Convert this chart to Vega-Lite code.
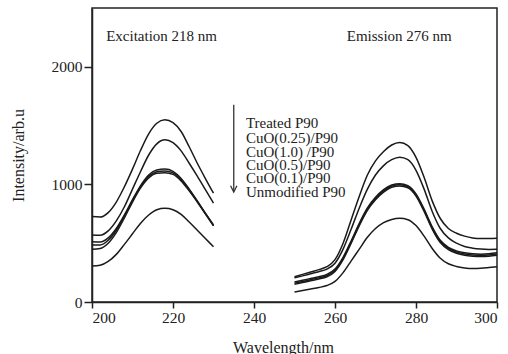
{
  "$schema": "https://vega.github.io/schema/vega-lite/v6.json",
  "width": 405,
  "height": 294,
  "autosize": {"type": "none"},
  "padding": {"left": 92, "top": 8, "right": 11, "bottom": 52},
  "background": "white",
  "config": {
    "view": {"stroke": "#222", "strokeWidth": 1.5},
    "font": "Liberation Serif",
    "axis": {
      "grid": false,
      "domainColor": "#222",
      "domainWidth": 1.5,
      "tickColor": "#222",
      "tickWidth": 1.5,
      "labelFont": "Liberation Serif",
      "labelFontSize": 15.5,
      "labelColor": "#222",
      "titleFont": "Liberation Serif",
      "titleFontSize": 16,
      "titleFontWeight": "normal",
      "titleColor": "#222"
    }
  },
  "datasets": {
    "curves": [
      {"s":"Treated P90","b":"ex","x":200,"y":726},{"s":"Treated P90","b":"ex","x":202,"y":722},{"s":"Treated P90","b":"ex","x":204,"y":760},{"s":"Treated P90","b":"ex","x":206,"y":850},{"s":"Treated P90","b":"ex","x":208,"y":980},{"s":"Treated P90","b":"ex","x":210,"y":1130},{"s":"Treated P90","b":"ex","x":212,"y":1290},{"s":"Treated P90","b":"ex","x":214,"y":1430},{"s":"Treated P90","b":"ex","x":216,"y":1520},{"s":"Treated P90","b":"ex","x":218,"y":1549},{"s":"Treated P90","b":"ex","x":220,"y":1525},{"s":"Treated P90","b":"ex","x":222,"y":1450},{"s":"Treated P90","b":"ex","x":224,"y":1320},{"s":"Treated P90","b":"ex","x":226,"y":1180},{"s":"Treated P90","b":"ex","x":228,"y":1050},{"s":"Treated P90","b":"ex","x":230,"y":925},
      {"s":"CuO(0.25)","b":"ex","x":200,"y":570},{"s":"CuO(0.25)","b":"ex","x":202,"y":568},{"s":"CuO(0.25)","b":"ex","x":204,"y":605},{"s":"CuO(0.25)","b":"ex","x":206,"y":690},{"s":"CuO(0.25)","b":"ex","x":208,"y":810},{"s":"CuO(0.25)","b":"ex","x":210,"y":960},{"s":"CuO(0.25)","b":"ex","x":212,"y":1110},{"s":"CuO(0.25)","b":"ex","x":214,"y":1250},{"s":"CuO(0.25)","b":"ex","x":216,"y":1345},{"s":"CuO(0.25)","b":"ex","x":218,"y":1379},{"s":"CuO(0.25)","b":"ex","x":220,"y":1355},{"s":"CuO(0.25)","b":"ex","x":222,"y":1285},{"s":"CuO(0.25)","b":"ex","x":224,"y":1180},{"s":"CuO(0.25)","b":"ex","x":226,"y":1070},{"s":"CuO(0.25)","b":"ex","x":228,"y":955},{"s":"CuO(0.25)","b":"ex","x":230,"y":840},
      {"s":"CuO(1.0)","b":"ex","x":200,"y":513},{"s":"CuO(1.0)","b":"ex","x":202,"y":510},{"s":"CuO(1.0)","b":"ex","x":204,"y":545},{"s":"CuO(1.0)","b":"ex","x":206,"y":625},{"s":"CuO(1.0)","b":"ex","x":208,"y":740},{"s":"CuO(1.0)","b":"ex","x":210,"y":870},{"s":"CuO(1.0)","b":"ex","x":212,"y":990},{"s":"CuO(1.0)","b":"ex","x":214,"y":1080},{"s":"CuO(1.0)","b":"ex","x":216,"y":1122},{"s":"CuO(1.0)","b":"ex","x":218,"y":1130},{"s":"CuO(1.0)","b":"ex","x":220,"y":1110},{"s":"CuO(1.0)","b":"ex","x":222,"y":1050},{"s":"CuO(1.0)","b":"ex","x":224,"y":960},{"s":"CuO(1.0)","b":"ex","x":226,"y":860},{"s":"CuO(1.0)","b":"ex","x":228,"y":755},{"s":"CuO(1.0)","b":"ex","x":230,"y":655},
      {"s":"CuO(0.5)","b":"ex","x":200,"y":485},{"s":"CuO(0.5)","b":"ex","x":202,"y":485},{"s":"CuO(0.5)","b":"ex","x":204,"y":525},{"s":"CuO(0.5)","b":"ex","x":206,"y":610},{"s":"CuO(0.5)","b":"ex","x":208,"y":730},{"s":"CuO(0.5)","b":"ex","x":210,"y":860},{"s":"CuO(0.5)","b":"ex","x":212,"y":980},{"s":"CuO(0.5)","b":"ex","x":214,"y":1068},{"s":"CuO(0.5)","b":"ex","x":216,"y":1108},{"s":"CuO(0.5)","b":"ex","x":218,"y":1115},{"s":"CuO(0.5)","b":"ex","x":220,"y":1098},{"s":"CuO(0.5)","b":"ex","x":222,"y":1040},{"s":"CuO(0.5)","b":"ex","x":224,"y":955},{"s":"CuO(0.5)","b":"ex","x":226,"y":855},{"s":"CuO(0.5)","b":"ex","x":228,"y":752},{"s":"CuO(0.5)","b":"ex","x":230,"y":650},
      {"s":"CuO(0.1)","b":"ex","x":200,"y":449},{"s":"CuO(0.1)","b":"ex","x":202,"y":455},{"s":"CuO(0.1)","b":"ex","x":204,"y":500},{"s":"CuO(0.1)","b":"ex","x":206,"y":590},{"s":"CuO(0.1)","b":"ex","x":208,"y":715},{"s":"CuO(0.1)","b":"ex","x":210,"y":850},{"s":"CuO(0.1)","b":"ex","x":212,"y":970},{"s":"CuO(0.1)","b":"ex","x":214,"y":1055},{"s":"CuO(0.1)","b":"ex","x":216,"y":1095},{"s":"CuO(0.1)","b":"ex","x":218,"y":1100},{"s":"CuO(0.1)","b":"ex","x":220,"y":1085},{"s":"CuO(0.1)","b":"ex","x":222,"y":1030},{"s":"CuO(0.1)","b":"ex","x":224,"y":945},{"s":"CuO(0.1)","b":"ex","x":226,"y":850},{"s":"CuO(0.1)","b":"ex","x":228,"y":750},{"s":"CuO(0.1)","b":"ex","x":230,"y":648},
      {"s":"Unmodified P90","b":"ex","x":200,"y":306},{"s":"Unmodified P90","b":"ex","x":202,"y":312},{"s":"Unmodified P90","b":"ex","x":204,"y":345},{"s":"Unmodified P90","b":"ex","x":206,"y":405},{"s":"Unmodified P90","b":"ex","x":208,"y":490},{"s":"Unmodified P90","b":"ex","x":210,"y":580},{"s":"Unmodified P90","b":"ex","x":212,"y":670},{"s":"Unmodified P90","b":"ex","x":214,"y":740},{"s":"Unmodified P90","b":"ex","x":216,"y":785},{"s":"Unmodified P90","b":"ex","x":218,"y":797},{"s":"Unmodified P90","b":"ex","x":220,"y":785},{"s":"Unmodified P90","b":"ex","x":222,"y":745},{"s":"Unmodified P90","b":"ex","x":224,"y":680},{"s":"Unmodified P90","b":"ex","x":226,"y":610},{"s":"Unmodified P90","b":"ex","x":228,"y":540},{"s":"Unmodified P90","b":"ex","x":230,"y":470},

      {"s":"Treated P90","b":"em","x":250,"y":215},{"s":"Treated P90","b":"em","x":252,"y":235},{"s":"Treated P90","b":"em","x":254,"y":255},{"s":"Treated P90","b":"em","x":256,"y":275},{"s":"Treated P90","b":"em","x":258,"y":300},{"s":"Treated P90","b":"em","x":260,"y":360},{"s":"Treated P90","b":"em","x":262,"y":500},{"s":"Treated P90","b":"em","x":264,"y":700},{"s":"Treated P90","b":"em","x":266,"y":900},{"s":"Treated P90","b":"em","x":268,"y":1080},{"s":"Treated P90","b":"em","x":270,"y":1200},{"s":"Treated P90","b":"em","x":272,"y":1280},{"s":"Treated P90","b":"em","x":274,"y":1335},{"s":"Treated P90","b":"em","x":276,"y":1356},{"s":"Treated P90","b":"em","x":278,"y":1330},{"s":"Treated P90","b":"em","x":280,"y":1230},{"s":"Treated P90","b":"em","x":282,"y":1060},{"s":"Treated P90","b":"em","x":284,"y":860},{"s":"Treated P90","b":"em","x":286,"y":710},{"s":"Treated P90","b":"em","x":288,"y":625},{"s":"Treated P90","b":"em","x":290,"y":585},{"s":"Treated P90","b":"em","x":292,"y":560},{"s":"Treated P90","b":"em","x":294,"y":545},{"s":"Treated P90","b":"em","x":296,"y":540},{"s":"Treated P90","b":"em","x":298,"y":540},{"s":"Treated P90","b":"em","x":300,"y":542},
      {"s":"CuO(0.25)","b":"em","x":250,"y":205},{"s":"CuO(0.25)","b":"em","x":252,"y":222},{"s":"CuO(0.25)","b":"em","x":254,"y":240},{"s":"CuO(0.25)","b":"em","x":256,"y":258},{"s":"CuO(0.25)","b":"em","x":258,"y":280},{"s":"CuO(0.25)","b":"em","x":260,"y":330},{"s":"CuO(0.25)","b":"em","x":262,"y":450},{"s":"CuO(0.25)","b":"em","x":264,"y":620},{"s":"CuO(0.25)","b":"em","x":266,"y":800},{"s":"CuO(0.25)","b":"em","x":268,"y":960},{"s":"CuO(0.25)","b":"em","x":270,"y":1080},{"s":"CuO(0.25)","b":"em","x":272,"y":1160},{"s":"CuO(0.25)","b":"em","x":274,"y":1210},{"s":"CuO(0.25)","b":"em","x":276,"y":1231},{"s":"CuO(0.25)","b":"em","x":278,"y":1210},{"s":"CuO(0.25)","b":"em","x":280,"y":1120},{"s":"CuO(0.25)","b":"em","x":282,"y":960},{"s":"CuO(0.25)","b":"em","x":284,"y":770},{"s":"CuO(0.25)","b":"em","x":286,"y":625},{"s":"CuO(0.25)","b":"em","x":288,"y":545},{"s":"CuO(0.25)","b":"em","x":290,"y":500},{"s":"CuO(0.25)","b":"em","x":292,"y":472},{"s":"CuO(0.25)","b":"em","x":294,"y":458},{"s":"CuO(0.25)","b":"em","x":296,"y":450},{"s":"CuO(0.25)","b":"em","x":298,"y":447},{"s":"CuO(0.25)","b":"em","x":300,"y":448},
      {"s":"CuO(1.0)","b":"em","x":250,"y":170},{"s":"CuO(1.0)","b":"em","x":252,"y":185},{"s":"CuO(1.0)","b":"em","x":254,"y":200},{"s":"CuO(1.0)","b":"em","x":256,"y":215},{"s":"CuO(1.0)","b":"em","x":258,"y":235},{"s":"CuO(1.0)","b":"em","x":260,"y":280},{"s":"CuO(1.0)","b":"em","x":262,"y":380},{"s":"CuO(1.0)","b":"em","x":264,"y":520},{"s":"CuO(1.0)","b":"em","x":266,"y":670},{"s":"CuO(1.0)","b":"em","x":268,"y":800},{"s":"CuO(1.0)","b":"em","x":270,"y":890},{"s":"CuO(1.0)","b":"em","x":272,"y":955},{"s":"CuO(1.0)","b":"em","x":274,"y":995},{"s":"CuO(1.0)","b":"em","x":276,"y":1006},{"s":"CuO(1.0)","b":"em","x":278,"y":990},{"s":"CuO(1.0)","b":"em","x":280,"y":920},{"s":"CuO(1.0)","b":"em","x":282,"y":790},{"s":"CuO(1.0)","b":"em","x":284,"y":640},{"s":"CuO(1.0)","b":"em","x":286,"y":525},{"s":"CuO(1.0)","b":"em","x":288,"y":465},{"s":"CuO(1.0)","b":"em","x":290,"y":435},{"s":"CuO(1.0)","b":"em","x":292,"y":418},{"s":"CuO(1.0)","b":"em","x":294,"y":410},{"s":"CuO(1.0)","b":"em","x":296,"y":407},{"s":"CuO(1.0)","b":"em","x":298,"y":410},{"s":"CuO(1.0)","b":"em","x":300,"y":418},
      {"s":"CuO(0.5)","b":"em","x":250,"y":160},{"s":"CuO(0.5)","b":"em","x":252,"y":175},{"s":"CuO(0.5)","b":"em","x":254,"y":190},{"s":"CuO(0.5)","b":"em","x":256,"y":205},{"s":"CuO(0.5)","b":"em","x":258,"y":225},{"s":"CuO(0.5)","b":"em","x":260,"y":270},{"s":"CuO(0.5)","b":"em","x":262,"y":370},{"s":"CuO(0.5)","b":"em","x":264,"y":510},{"s":"CuO(0.5)","b":"em","x":266,"y":660},{"s":"CuO(0.5)","b":"em","x":268,"y":790},{"s":"CuO(0.5)","b":"em","x":270,"y":880},{"s":"CuO(0.5)","b":"em","x":272,"y":945},{"s":"CuO(0.5)","b":"em","x":274,"y":985},{"s":"CuO(0.5)","b":"em","x":276,"y":996},{"s":"CuO(0.5)","b":"em","x":278,"y":980},{"s":"CuO(0.5)","b":"em","x":280,"y":910},{"s":"CuO(0.5)","b":"em","x":282,"y":780},{"s":"CuO(0.5)","b":"em","x":284,"y":630},{"s":"CuO(0.5)","b":"em","x":286,"y":515},{"s":"CuO(0.5)","b":"em","x":288,"y":455},{"s":"CuO(0.5)","b":"em","x":290,"y":425},{"s":"CuO(0.5)","b":"em","x":292,"y":408},{"s":"CuO(0.5)","b":"em","x":294,"y":400},{"s":"CuO(0.5)","b":"em","x":296,"y":397},{"s":"CuO(0.5)","b":"em","x":298,"y":400},{"s":"CuO(0.5)","b":"em","x":300,"y":408},
      {"s":"CuO(0.1)","b":"em","x":250,"y":150},{"s":"CuO(0.1)","b":"em","x":252,"y":165},{"s":"CuO(0.1)","b":"em","x":254,"y":180},{"s":"CuO(0.1)","b":"em","x":256,"y":195},{"s":"CuO(0.1)","b":"em","x":258,"y":215},{"s":"CuO(0.1)","b":"em","x":260,"y":260},{"s":"CuO(0.1)","b":"em","x":262,"y":360},{"s":"CuO(0.1)","b":"em","x":264,"y":500},{"s":"CuO(0.1)","b":"em","x":266,"y":650},{"s":"CuO(0.1)","b":"em","x":268,"y":780},{"s":"CuO(0.1)","b":"em","x":270,"y":870},{"s":"CuO(0.1)","b":"em","x":272,"y":935},{"s":"CuO(0.1)","b":"em","x":274,"y":975},{"s":"CuO(0.1)","b":"em","x":276,"y":986},{"s":"CuO(0.1)","b":"em","x":278,"y":970},{"s":"CuO(0.1)","b":"em","x":280,"y":900},{"s":"CuO(0.1)","b":"em","x":282,"y":770},{"s":"CuO(0.1)","b":"em","x":284,"y":620},{"s":"CuO(0.1)","b":"em","x":286,"y":505},{"s":"CuO(0.1)","b":"em","x":288,"y":445},{"s":"CuO(0.1)","b":"em","x":290,"y":415},{"s":"CuO(0.1)","b":"em","x":292,"y":398},{"s":"CuO(0.1)","b":"em","x":294,"y":390},{"s":"CuO(0.1)","b":"em","x":296,"y":387},{"s":"CuO(0.1)","b":"em","x":298,"y":390},{"s":"CuO(0.1)","b":"em","x":300,"y":398},
      {"s":"Unmodified P90","b":"em","x":250,"y":85},{"s":"Unmodified P90","b":"em","x":252,"y":97},{"s":"Unmodified P90","b":"em","x":254,"y":110},{"s":"Unmodified P90","b":"em","x":256,"y":123},{"s":"Unmodified P90","b":"em","x":258,"y":140},{"s":"Unmodified P90","b":"em","x":260,"y":175},{"s":"Unmodified P90","b":"em","x":262,"y":250},{"s":"Unmodified P90","b":"em","x":264,"y":350},{"s":"Unmodified P90","b":"em","x":266,"y":450},{"s":"Unmodified P90","b":"em","x":268,"y":550},{"s":"Unmodified P90","b":"em","x":270,"y":625},{"s":"Unmodified P90","b":"em","x":272,"y":675},{"s":"Unmodified P90","b":"em","x":274,"y":702},{"s":"Unmodified P90","b":"em","x":276,"y":712},{"s":"Unmodified P90","b":"em","x":278,"y":700},{"s":"Unmodified P90","b":"em","x":280,"y":650},{"s":"Unmodified P90","b":"em","x":282,"y":560},{"s":"Unmodified P90","b":"em","x":284,"y":455},{"s":"Unmodified P90","b":"em","x":286,"y":372},{"s":"Unmodified P90","b":"em","x":288,"y":325},{"s":"Unmodified P90","b":"em","x":290,"y":302},{"s":"Unmodified P90","b":"em","x":292,"y":290},{"s":"Unmodified P90","b":"em","x":294,"y":285},{"s":"Unmodified P90","b":"em","x":296,"y":287},{"s":"Unmodified P90","b":"em","x":298,"y":293},{"s":"Unmodified P90","b":"em","x":300,"y":300}
    ],
    "labels": [
      {"x":203.5,"y":2264,"t":"Excitation 218 nm"},
      {"x":262.9,"y":2264,"t":"Emission 276 nm"},
      {"x":238,"y":1521,"t":"Treated P90"},
      {"x":238,"y":1393,"t":"CuO(0.25)/P90"},
      {"x":238,"y":1279,"t":"CuO(1.0) /P90"},
      {"x":238,"y":1166,"t":"CuO(0.5)/P90"},
      {"x":238,"y":1053,"t":"CuO(0.1)/P90"},
      {"x":238,"y":939,"t":"Unmodified P90"}
    ],
    "arrow": [
      {"x":235,"y":1677,"y2":940}
    ],
    "head": [
      {"x":235,"y":962}
    ]
  },
  "layer": [
    {
      "data": {"name": "curves"},
      "mark": {"type": "line", "interpolate": "monotone", "color": "#1a1a1a", "strokeWidth": 1.5},
      "encoding": {
        "x": {"field": "x", "type": "quantitative", "scale": {"domain": [200, 300], "nice": false}, "axis": {"values": [200, 220, 240, 260, 280, 300], "format": "d", "labelFont": "Liberation Serif", "labelFontSize": 15.5, "title": "Wavelength/nm", "tickSize": 6, "labelPadding": 2, "titleX": 191, "titleY": 45, "titleBaseline": "middle"}},
        "y": {"field": "y", "type": "quantitative", "scale": {"domain": [0, 2500], "nice": false}, "axis": {"values": [0, 1000, 2000], "format": "d", "labelFont": "Liberation Serif", "labelFontSize": 15.5, "title": "Intensity/arb.u", "tickSize": 8, "labelPadding": 2, "titlePadding": 25}},
        "detail": [{"field": "s"}, {"field": "b"}]
      }
    },
    {
      "data": {"name": "arrow"},
      "mark": {"type": "rule", "color": "#333", "strokeWidth": 1.3},
      "encoding": {
        "x": {"field": "x", "type": "quantitative"},
        "y": {"field": "y", "type": "quantitative"},
        "y2": {"field": "y2"}
      }
    },
    {
      "data": {"name": "head"},
      "mark": {"type": "point", "shape": "M-1,-1L0,1L1,-1", "filled": false, "size": 40, "color": "#333", "strokeWidth": 1.3, "opacity": 1},
      "encoding": {
        "x": {"field": "x", "type": "quantitative"},
        "y": {"field": "y", "type": "quantitative"}
      }
    },
    {
      "data": {"name": "labels"},
      "mark": {"type": "text", "align": "left", "baseline": "middle", "font": "Liberation Serif", "fontSize": 15, "color": "#222"},
      "encoding": {
        "x": {"field": "x", "type": "quantitative"},
        "y": {"field": "y", "type": "quantitative"},
        "text": {"field": "t"}
      }
    }
  ]
}
